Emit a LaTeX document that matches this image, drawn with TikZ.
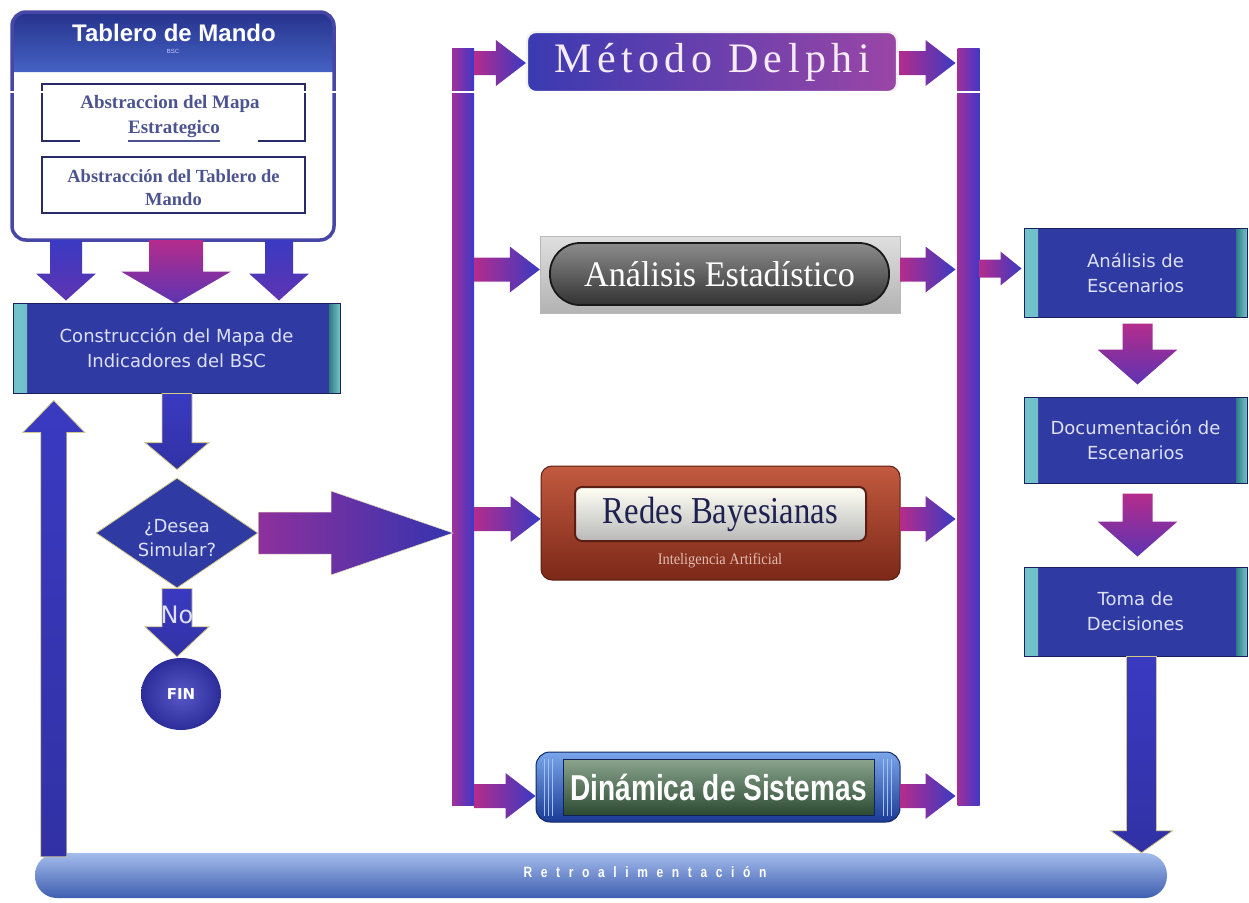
\documentclass[tikz,border=0pt]{standalone}
\usepackage{fontspec}
\usepackage{graphicx}
\setmainfont{Liberation Serif}
\newfontfamily\tahoma{DejaVu Sans}
\newfontfamily\arialf{Liberation Sans}
\newfontfamily\delphif[LetterSpace=13]{Liberation Serif}
\newfontfamily\retrof[LetterSpace=72]{Liberation Sans}
\usetikzlibrary{shapes.geometric,calc}

\definecolor{panelline}{HTML}{4646A6}
\definecolor{hdtop}{HTML}{26338C}
\definecolor{hdbot}{HTML}{4462C4}
\definecolor{absline}{HTML}{2A2A66}
\definecolor{abstext}{HTML}{4C5490}
\definecolor{boxblue}{HTML}{2F3BA2}
\definecolor{tealedge}{HTML}{45B0BC}
\definecolor{boxtext}{HTML}{DDE0F6}
\definecolor{arrblue}{HTML}{3A3AC2}
\definecolor{arrviolet}{HTML}{5E34B2}
\definecolor{arrmag}{HTML}{B42C8C}
\definecolor{goldedge}{HTML}{D2C88C}
\definecolor{busmag}{HTML}{A0309A}
\definecolor{busblue}{HTML}{4038C6}
\definecolor{finin}{HTML}{5858C8}
\definecolor{finout}{HTML}{2C2C9A}
\definecolor{delphil}{HTML}{3A3AB2}
\definecolor{delphir}{HTML}{9A46A6}
\definecolor{redtop}{HTML}{C25A40}
\definecolor{redbot}{HTML}{7C2818}
\definecolor{redline}{HTML}{5A1E12}
\definecolor{redsub}{HTML}{E2BCB2}
\definecolor{navytxt}{HTML}{1E2050}
\definecolor{cyltop}{HTML}{7AA6EA}
\definecolor{cylmid}{HTML}{2E62CC}
\definecolor{cylbot}{HTML}{1A3A94}
\definecolor{greentop}{HTML}{8AA48E}
\definecolor{greenbot}{HTML}{2C4A32}
\definecolor{retrotop}{HTML}{A4BCEC}
\definecolor{retromid}{HTML}{6C8ED6}
\definecolor{retrobot}{HTML}{3E5EB0}

\tikzset{
  panel/.style={fill=white, minimum width=322pt, minimum height=228pt,
    rounded corners=14pt, outer sep=0pt, inner sep=0pt},
  absbox/.style={draw=absline, line width=2.6pt, minimum width=263pt,
    minimum height=57pt, inner sep=0pt},
  abstxt/.style={font=\bfseries\fontsize{19}{21}\selectfont, text=abstext, inner sep=0pt},
  bluebox/.style={fill=boxblue, draw=boxblue!55!black, line width=1pt, text=boxtext,
    font=\tahoma\fontsize{18}{25}\selectfont, align=center, inner sep=0pt,
    path picture={
      \shade[left color=tealedge!75!white, right color=tealedge!70!black]
        (path picture bounding box.south west) rectangle
        ([xshift=14pt]path picture bounding box.north west);
      \shade[left color=tealedge!70!black, right color=tealedge!75!white]
        ([xshift=-11pt]path picture bounding box.south east) rectangle
        (path picture bounding box.north east);}},
  busbar/.style={left color=busmag, right color=busblue, minimum width=22pt,
    inner sep=0pt, outer sep=0pt},
  downblue/.style={top color=arrblue, bottom color=arrviolet, draw=none},
  downmag/.style={top color=arrmag, bottom color=arrviolet, draw=none},
  solidblue/.style={top color=arrblue, bottom color=arrblue!85!black,
    draw=goldedge, line width=0.8pt},
  rightsmall/.style={left color=arrmag, middle color=arrmag!50!arrviolet,
    right color=arrblue, draw=none},
  bigright/.style={left color=arrmag!55!arrviolet, middle color=arrmag, right color=arrblue!90!black,
    draw=goldedge!60!white, line width=0.5pt}
}

% block arrows: #1 start, #2 end, #3 shaft half width, #4 head half width,
% #5 head length, #6 shading style
\newcommand\blockdown[6]{\shadedraw[#6] let \p1=#1, \p2=#2 in
  (\x1-#3pt,\y1) -- (\x1+#3pt,\y1) -- (\x1+#3pt,\y2+#5pt) -- (\x1+#4pt,\y2+#5pt)
  -- (\x1,\y2) -- (\x1-#4pt,\y2+#5pt) -- (\x1-#3pt,\y2+#5pt) -- cycle;}
\newcommand\blockup[6]{\shadedraw[#6] let \p1=#1, \p2=#2 in
  (\x1-#3pt,\y1) -- (\x1+#3pt,\y1) -- (\x1+#3pt,\y2-#5pt) -- (\x1+#4pt,\y2-#5pt)
  -- (\x1,\y2) -- (\x1-#4pt,\y2-#5pt) -- (\x1-#3pt,\y2-#5pt) -- cycle;}
\newcommand\blockright[6]{\shadedraw[#6] let \p1=#1, \p2=#2 in
  (\x1,\y1+#3pt) -- (\x2-#5pt,\y1+#3pt) -- (\x2-#5pt,\y1+#4pt) -- (\x2,\y1)
  -- (\x2-#5pt,\y1-#4pt) -- (\x2-#5pt,\y1-#3pt) -- (\x1,\y1-#3pt) -- cycle;}

\begin{document}
\begin{tikzpicture}[x=1pt,y=-1pt]
\useasboundingbox (0,0) rectangle (1249,902);

% ---------- Tablero de Mando panel
\node[panel] (tab) at (173,126) {};
\shade[top color=hdtop, bottom color=hdbot]
  ([yshift=-60pt]tab.north west) {[rounded corners=13pt] -- (tab.north west) -- (tab.north east)}
  -- ([yshift=-60pt]tab.north east) -- cycle;
\draw[panelline, line width=3.5pt, rounded corners=14pt] (tab.north west) rectangle (tab.south east);
\node[font=\arialf\bfseries\fontsize{24}{26}\selectfont, text=white] (tabtitle) at (174,33) {Tablero de Mando};
\node[font=\arialf\fontsize{6}{7}\selectfont, text=white!80!blue] (tabsub) at (173,51) {BSC};

\node[absbox] (abs1) at (173.5,112.5) {};
\node[fill=white, minimum width=178pt, minimum height=47pt, inner sep=0pt] (abs1bg) at (169,119.5) {};
\node[abstxt] (abs1a) at (170,104) {Abstraccion del Mapa};
\node[abstxt, anchor=base] (abs1b) at (174,133) {Estrategico};
\draw[abstext, line width=2.4pt] ([yshift=-8pt]abs1b.base west) -- ([yshift=-8pt]abs1b.base east);

\node[absbox, minimum height=56pt] (abs2) at (173.5,185) {};
\node[abstxt, font=\bfseries\fontsize{18.5}{23}\selectfont, align=center] (abs2t) at (173.5,188)
  {Abstracción del Tablero de\\Mando};

% ---------- construction box and the decision
\node[bluebox, minimum width=327pt, minimum height=90pt] (cons) at (176.5,348)
  {Construcción del Mapa de\\Indicadores del BSC};

\blockdown{($(tab.south)+(-107,0)$)}{($(cons.north)+(0,-2)$)}{16}{30}{27}{downblue}
\blockdown{($(tab.south)+(3,0)$)}{($(cons.north)+(0,1)$)}{27}{55}{32}{downmag}
\blockdown{($(tab.south)+(106,0)$)}{($(cons.north)+(0,-2)$)}{14}{30}{27}{downblue}

\node[diamond, fill=boxblue, draw=goldedge, line width=0.8pt, minimum width=162pt,
  minimum height=110pt, inner sep=0pt] (dia) at (177,533) {};
\node[text=boxtext, font=\tahoma\fontsize{18}{24}\selectfont, align=center] (diatxt)
  at ($(dia.center)+(0,5)$) {¿Desea\\Simular?};

\node[ellipse, inner color=finin, outer color=finout,
  minimum width=80pt, minimum height=72pt, text=white,
  font=\tahoma\bfseries\fontsize{15}{17}\selectfont] (fin) at (181,694) {FIN};

\blockdown{($(cons.south)+(0.5,0)$)}{($(dia.north)+(0,-8)$)}{15}{32}{27}{solidblue}
\blockdown{(dia.south)}{($(fin.north)+(0,-1)$)}{15}{32}{30}{solidblue}
\node[text=boxtext, font=\tahoma\fontsize{24}{26}\selectfont] (notxt) at (177,615) {No};

% ---------- buses and methods
\node[busbar, minimum height=757pt] (lbus) at (463,426.5) {};
\node[busbar, minimum height=757pt] (rbus) at (968.5,426.5) {};

\blockright{(dia.east)}{($(lbus.west |- dia.east)+(1,0)$)}{21}{42}{122}{bigright}

\node[rounded corners=9pt, left color=delphil, right color=delphir,
  draw=white!90!gray, line width=2.2pt, minimum width=370pt, minimum height=60pt,
  text=white!92!violet, font=\delphif\fontsize{42}{44}\selectfont] (delphi) at (712,62) {Método Delphi};

\node[draw=gray!55, top color=gray!25, bottom color=gray!60, minimum width=360pt,
  minimum height=77pt] (estadbg) at (720,274.5) {};
\node[rounded corners=30pt, draw=black!90, line width=1.8pt, top color=black!45,
  middle color=black, bottom color=black!80, minimum width=339pt, minimum height=62pt,
  text=white, font=\fontsize{36}{38}\selectfont] (estad) at (719.5,274)
  {\scalebox{0.95}[1]{Análisis Estadístico}};

\node[rounded corners=11pt, draw=redline, line width=1pt, top color=redtop,
  bottom color=redbot, minimum width=359pt, minimum height=114pt] (redesbg) at (720.5,523) {};
\node[rounded corners=7pt, draw=redline, line width=2pt, top color=white!96!yellow,
  bottom color=gray!55, minimum width=291pt, minimum height=54pt, text=navytxt,
  font=\fontsize{38}{40}\selectfont] (redes) at (720.5,514) {\scalebox{0.86}[1]{Redes Bayesianas}};
\node[text=redsub, font=\fontsize{16}{18}\selectfont] (redessub) at (720,561)
  {\scalebox{0.9}[1]{Inteligencia Artificial}};

\node[rounded corners=14pt, draw=cylbot!70!black, line width=1pt, top color=cyltop,
  middle color=cylmid, bottom color=cylbot, minimum width=364pt,
  minimum height=70pt] (dinambg) at (718,787) {};
\foreach \dx in {9,13,17} {
  \draw[cyltop!70!white, line width=0.7pt] ([shift={(\dx,7)}]dinambg.north west) -- ([shift={(\dx,-7)}]dinambg.south west);
  \draw[cyltop!70!white, line width=0.7pt] ([shift={(-\dx,7)}]dinambg.north east) -- ([shift={(-\dx,-7)}]dinambg.south east);
}
\node[draw=cylbot!60!black, line width=1pt, top color=greentop, bottom color=greenbot,
  minimum width=311pt, minimum height=56pt, text=white,
  font=\arialf\bfseries\fontsize{36}{38}\selectfont] (dinam) at (718.5,787)
  {\scalebox{0.78}[1]{Dinámica de Sistemas}};

% branches into and out of the methods
\blockright{($(lbus.east |- delphi.west)+(0,1)$)}{($(delphi.west)+(0,1)$)}{12}{23}{30}{rightsmall}
\blockright{($(lbus.east |- estadbg.west)+(0,-5)$)}{($(estadbg.west)+(0,-5)$)}{12}{23}{30}{rightsmall}
\blockright{($(lbus.east |- redesbg.west)+(0,-4)$)}{($(redesbg.west)+(0,-4)$)}{12}{23}{30}{rightsmall}
\blockright{($(lbus.east |- dinambg.west)+(0,9)$)}{($(dinambg.west)+(0,9)$)}{12}{23}{30}{rightsmall}

\blockright{($(delphi.east)+(1,1)$)}{($(rbus.west |- delphi.east)+(-2,1)$)}{12}{23}{30}{rightsmall}
\blockright{($(estadbg.east)+(0,-5)$)}{($(rbus.west |- estadbg.east)+(-2,-5)$)}{12}{23}{30}{rightsmall}
\blockright{($(redesbg.east)+(0,-4)$)}{($(rbus.west |- redesbg.east)+(-2,-4)$)}{12}{23}{30}{rightsmall}
\blockright{($(dinambg.east)+(0,9)$)}{($(rbus.west |- dinambg.east)+(-2,9)$)}{12}{23}{30}{rightsmall}

% ---------- scenario column
\node[bluebox, minimum width=223pt, minimum height=89pt] (esc1) at (1135.5,272.5) {Análisis de\\Escenarios};
\node[bluebox, minimum width=223pt, minimum height=86pt] (esc2) at (1135.5,440) {Documentación de\\Escenarios};
\node[bluebox, minimum width=223pt, minimum height=89pt] (esc3) at (1135.5,611.5) {Toma de\\Decisiones};

\blockright{($(rbus.east |- esc1.west)+(0,-4)$)}{($(esc1.west)+(-2,-4)$)}{9}{17}{21}{rightsmall}
\blockdown{($(esc1.south)+(2,6)$)}{($(esc2.north)+(2,-12)$)}{15}{40}{35}{downmag}
\blockdown{($(esc2.south)+(2,10)$)}{($(esc3.north)+(2,-10)$)}{15}{40}{35}{downmag}

% ---------- feedback bar
\node[rounded corners=22pt, top color=retrotop, middle color=retromid,
  bottom color=retrobot, minimum width=1132pt, minimum height=45pt, inner sep=0pt]
  (retro) at (601,875.5) {};
\node[text=white, font=\retrof\bfseries\fontsize{15}{17}\selectfont] (retrotxt) at ($(retro.center)+(44,-3)$)
  {\scalebox{0.8}[1]{Retroalimentación}};

\coordinate (tomaout) at ($(esc3.south)+(6,0)$);
\blockdown{(tomaout)}{(tomaout |- retro.north)}{15}{31}{22}{solidblue}
\coordinate (fbbase) at ($(retro.west)+(19,0)$);
\blockup{($(fbbase |- retro.north)+(0,4)$)}{($(fbbase |- cons.south)+(0,7)$)}{13}{31}{32}{solidblue}

% scan line running across the sheet
\draw[white, line width=1.5pt] (0,92) -- (1249,92);
\end{tikzpicture}
\end{document}
